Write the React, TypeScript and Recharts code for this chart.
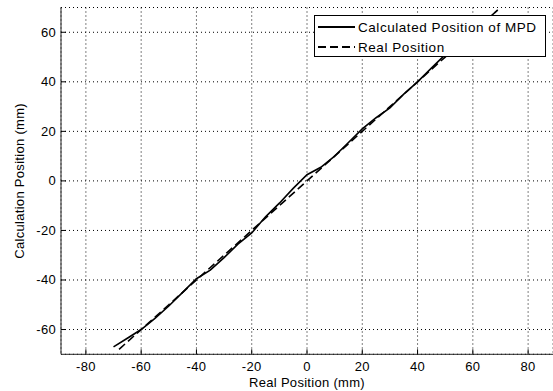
import { CartesianGrid, Legend, Line, LineChart, XAxis, YAxis } from "recharts";

const realX = [-68, -50, -30, -10, 0, 10, 30, 50, 69];
const realY = [-68, -50, -30, -10, 0, 10, 30, 50, 69];

const calcX = [
  -70, -65, -60, -55, -50, -45, -40, -35, -30, -25, -20, -15, -10, -5, 0, 5, 10, 15, 20, 25, 30,
  35, 40, 45, 50, 55, 60, 65, 69,
];
const calcY = [
  -67, -63.5, -60, -55.5, -50.5, -45, -39.5, -36, -31, -25.5, -21, -14.5, -9, -3, 2.5, 5.5, 10,
  15.5, 21, 25.5, 29.5, 35, 40, 45.5, 51, 55.5, 60, 65, 69,
];

const xTicks = [-80, -60, -40, -20, 0, 20, 40, 60, 80];
const yTicks = [-60, -40, -20, 0, 20, 40, 60];

const realData = realX.map((x, i) => ({ x, y: realY[i] }));
const calcData = calcX.map((x, i) => ({ x, y: calcY[i] }));

const FONT = "Arial, 'Liberation Sans', sans-serif";
const FS = 13;

function XTick({ x, y, payload }: any) {
  return (
    <g>
      <line x1={x} x2={x} y1={y} y2={y - 5} stroke="#000" />
      <text x={x} y={y + 17} textAnchor="middle" fontSize={FS} fontFamily={FONT} fill="#000" letterSpacing={0.3}>
        {payload.value}
      </text>
    </g>
  );
}

function YTick({ x, y, payload }: any) {
  return (
    <g>
      <line x1={x} x2={x + 5} y1={y} y2={y} stroke="#000" />
      <text x={x - 5} y={y + 4.5} textAnchor="end" fontSize={FS} fontFamily={FONT} fill="#000" letterSpacing={0.3}>
        {payload.value}
      </text>
    </g>
  );
}

function LegendBox() {
  return (
    <div
      style={{
        width: 232,
        height: 42,
        boxSizing: "border-box",
        border: "1px solid #000",
        background: "#fff",
        position: "relative",
      }}
    >
      <svg width={232} height={42} style={{ position: "absolute", left: -1, top: -1 }}>
        <line x1={4} x2={41} y1={12} y2={12} stroke="#000" strokeWidth={2} />
        <line x1={4} x2={41} y1={32} y2={32} stroke="#000" strokeWidth={2} strokeDasharray="8 4" />
        <text x={44} y={16.5} fontSize={13.5} fontFamily={FONT} fill="#000" style={{ letterSpacing: "0.55px" }}>
          Calculated Position of MPD
        </text>
        <text x={44} y={36.5} fontSize={13.5} fontFamily={FONT} fill="#000" style={{ letterSpacing: "0.55px" }}>
          Real Position
        </text>
      </svg>
    </div>
  );
}

export default function App() {
  return (
    <div style={{ position: "absolute", left: 0, top: 0, background: "#fff" }}>
      <LineChart width={553} height={391} margin={{ top: 7.5, right: 0, bottom: 0, left: 0 }}>
        <CartesianGrid stroke="#000" strokeDasharray="1 3" />
        <XAxis
          type="number"
          dataKey="x"
          domain={[-89, 89]}
          ticks={xTicks}
          height={36.7}
          tickSize={0}
          tickMargin={0}
          tickLine={false}
          tick={<XTick />}
          axisLine={{ stroke: "#222" }}
          allowDataOverflow
          label={{
            value: "Real Position (mm)",
            position: "insideBottom",
            offset: 4,
            style: { fontFamily: FONT, fontSize: FS, fill: "#000", letterSpacing: 0.3 },
          }}
        />
        <YAxis
          type="number"
          dataKey="y"
          domain={[-70, 70]}
          ticks={yTicks}
          width={61}
          tickSize={0}
          tickMargin={0}
          tickLine={false}
          tick={<YTick />}
          axisLine={{ stroke: "#222" }}
          allowDataOverflow
          label={{
            value: "Calculation Position (mm)",
            angle: -90,
            position: "insideLeft",
            offset: 19,
            style: { textAnchor: "middle", fontFamily: FONT, fontSize: FS, fill: "#000", letterSpacing: 0.3 },
          }}
        />
        <Legend
          layout="vertical"
          align="center"
          verticalAlign="middle"
          wrapperStyle={{ position: "absolute", left: 314, top: 15, width: 232, height: 42 }}
          content={() => <LegendBox />}
        />
        <Line
          data={realData}
          dataKey="y"
          type="linear"
          stroke="#000"
          strokeWidth={1.6}
          strokeDasharray="8 4"
          dot={false}
          isAnimationActive={false}
        />
        <Line
          data={calcData}
          dataKey="y"
          type="linear"
          stroke="#000"
          strokeWidth={1.6}
          dot={false}
          isAnimationActive={false}
        />
      </LineChart>
    </div>
  );
}
